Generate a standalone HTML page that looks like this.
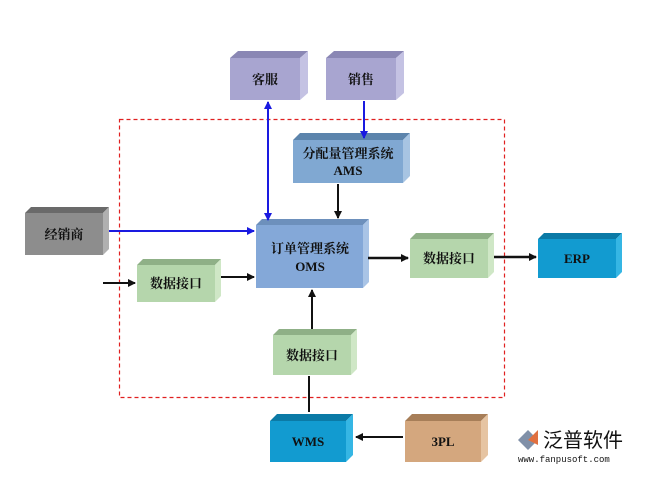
<!DOCTYPE html>
<html><head><meta charset="utf-8"><style>
html,body{margin:0;padding:0;background:#fff;}
svg text{font-family:"Liberation Serif","Noto Serif CJK SC",serif;font-weight:bold;fill:#111;}
</style></head><body>
<svg width="646" height="474" viewBox="0 0 646 474" xmlns="http://www.w3.org/2000/svg">
<defs>
<marker id="ab" markerWidth="8" markerHeight="8" refX="7" refY="4" orient="auto" markerUnits="userSpaceOnUse"><path d="M0,0 L8,4 L0,8 z" fill="#111"/></marker>
<marker id="abl" markerWidth="8" markerHeight="8" refX="7" refY="4" orient="auto-start-reverse" markerUnits="userSpaceOnUse"><path d="M0,0 L8,4 L0,8 z" fill="#1a1ae0"/></marker>
</defs>
<rect x="119.5" y="119.5" width="385" height="278" fill="none" stroke="#e02020" stroke-width="1.2" stroke-dasharray="4,3"/>
<polygon points="230,58 238,51 308,51 300,58" fill="#8a87b4"/><polygon points="300,58 308,51 308,93 300,100" fill="#c4c2e3"/><rect x="230" y="58" width="70" height="42" fill="#a8a5d0"/>
<text x="265" y="84" font-size="13" text-anchor="middle">客服</text>
<polygon points="326,58 334,51 404,51 396,58" fill="#8a87b4"/><polygon points="396,58 404,51 404,93 396,100" fill="#c4c2e3"/><rect x="326" y="58" width="70" height="42" fill="#a8a5d0"/>
<text x="361" y="84" font-size="13" text-anchor="middle">销售</text>
<polygon points="293,140 300,133 410,133 403,140" fill="#5c84ac"/><polygon points="403,140 410,133 410,176 403,183" fill="#a7c4e2"/><rect x="293" y="140" width="110" height="43" fill="#80a8d2"/>
<text x="348" y="158" font-size="13" text-anchor="middle">分配量管理系统</text><text x="348" y="175" font-size="13" text-anchor="middle">AMS</text>
<polygon points="25,213 31,207 109,207 103,213" fill="#6a6a6a"/><polygon points="103,213 109,207 109,249 103,255" fill="#b0b0b0"/><rect x="25" y="213" width="78" height="42" fill="#8d8d8d"/>
<text x="64" y="239" font-size="13" text-anchor="middle">经销商</text>
<polygon points="256,225 262,219 369,219 363,225" fill="#6d90bc"/><polygon points="363,225 369,219 369,282 363,288" fill="#a9c4e6"/><rect x="256" y="225" width="107" height="63" fill="#84a8d8"/>
<text x="310" y="253" font-size="13" text-anchor="middle">订单管理系统</text><text x="310" y="271" font-size="13" text-anchor="middle">OMS</text>
<polygon points="137,265 143,259 221,259 215,265" fill="#8fb087"/><polygon points="215,265 221,259 221,296 215,302" fill="#cfe7c6"/><rect x="137" y="265" width="78" height="37" fill="#b5d6ac"/>
<text x="176" y="288" font-size="13" text-anchor="middle">数据接口</text>
<polygon points="410,239 416,233 494,233 488,239" fill="#8fb087"/><polygon points="488,239 494,233 494,272 488,278" fill="#cfe7c6"/><rect x="410" y="239" width="78" height="39" fill="#b5d6ac"/>
<text x="449" y="263" font-size="13" text-anchor="middle">数据接口</text>
<polygon points="538,239 544,233 622,233 616,239" fill="#0b7aa6"/><polygon points="616,239 622,233 622,272 616,278" fill="#35b6e4"/><rect x="538" y="239" width="78" height="39" fill="#129bd0"/>
<text x="577" y="263" font-size="13" text-anchor="middle">ERP</text>
<polygon points="273,335 279,329 357,329 351,335" fill="#8fb087"/><polygon points="351,335 357,329 357,369 351,375" fill="#cfe7c6"/><rect x="273" y="335" width="78" height="40" fill="#b5d6ac"/>
<text x="312" y="360" font-size="13" text-anchor="middle">数据接口</text>
<polygon points="270,421 277,414 353,414 346,421" fill="#0b7aa6"/><polygon points="346,421 353,414 353,455 346,462" fill="#35b6e4"/><rect x="270" y="421" width="76" height="41" fill="#129bd0"/>
<text x="308" y="446" font-size="13" text-anchor="middle">WMS</text>
<polygon points="405,421 412,414 488,414 481,421" fill="#a77e58"/><polygon points="481,421 488,414 488,455 481,462" fill="#e6c4a2"/><rect x="405" y="421" width="76" height="41" fill="#d4a77e"/>
<text x="443" y="446" font-size="13" text-anchor="middle">3PL</text>
<line x1="268" y1="102" x2="268" y2="220" stroke="#1a1ae0" stroke-width="2" marker-end="url(#abl)" marker-start="url(#abl)"/>
<line x1="364" y1="101" x2="364" y2="138" stroke="#1a1ae0" stroke-width="2" marker-end="url(#abl)"/>
<line x1="109" y1="231" x2="254" y2="231" stroke="#1a1ae0" stroke-width="2" marker-end="url(#abl)"/>
<line x1="338" y1="184" x2="338" y2="218" stroke="#111" stroke-width="2" marker-end="url(#ab)"/>
<line x1="103" y1="283" x2="135" y2="283" stroke="#111" stroke-width="2" marker-end="url(#ab)"/>
<line x1="221" y1="277" x2="254" y2="277" stroke="#111" stroke-width="2" marker-end="url(#ab)"/>
<line x1="368" y1="258" x2="408" y2="258" stroke="#111" stroke-width="2.5" marker-end="url(#ab)"/>
<line x1="494" y1="257" x2="536" y2="257" stroke="#111" stroke-width="2.5" marker-end="url(#ab)"/>
<line x1="312" y1="329" x2="312" y2="290" stroke="#111" stroke-width="2" marker-end="url(#ab)"/>
<line x1="309" y1="412" x2="309" y2="376" stroke="#111" stroke-width="2"/>
<line x1="403" y1="437" x2="356" y2="437" stroke="#111" stroke-width="2" marker-end="url(#ab)"/>
<polygon points="518,440 528,430 538,440 528,450" fill="#8090a8"/><polygon points="528,440 538,430 538,445" fill="#e07040"/>
<text x="543" y="447" font-size="20" style="font-family:'Liberation Sans','Noto Sans CJK SC',sans-serif;font-weight:normal" fill="#7a8aa2">泛普软件</text>
<text x="518" y="462" font-size="9" style="font-family:'Liberation Mono',monospace;font-weight:normal" fill="#d07050">www.fanpusoft.com</text>
</svg>
</body></html>
